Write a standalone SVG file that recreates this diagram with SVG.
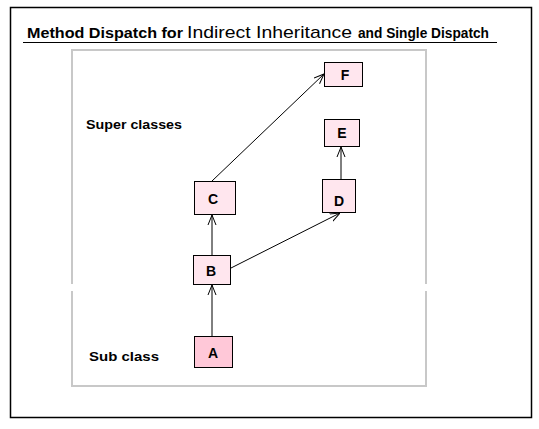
<svg xmlns="http://www.w3.org/2000/svg" width="539" height="429" viewBox="0 0 539 429">
<defs>
<style>
.node rect{stroke:#000;stroke-width:1;fill:#ffe6ee}
.node text{font-family:"Liberation Sans",Arial,sans-serif;font-weight:bold;font-size:14px;text-anchor:middle}
.lbl{font-family:"Liberation Sans",Arial,sans-serif;font-weight:bold;font-size:13.5px}
.edge{stroke:#000;stroke-width:1;fill:none;marker-end:url(#ah)}
.frame{fill:none;stroke:#c8c8c8;stroke-width:2}
</style>
<marker id="ah" viewBox="0 0 10 10" refX="10" refY="5" markerWidth="10" markerHeight="10" markerUnits="userSpaceOnUse" orient="auto">
<polyline points="0,1 10,5 0,9" fill="none" stroke="#000" stroke-width="1"/>
</marker>
</defs>
<rect x="0" y="0" width="539" height="429" fill="#fff"/>
<rect x="10.5" y="7.5" width="521" height="410" fill="none" stroke="#000" stroke-width="1.5"/>
<g id="title">
<text y="38" font-family="'Liberation Sans',Arial,sans-serif"><tspan x="27" font-weight="bold" font-size="14.5" textLength="156" lengthAdjust="spacingAndGlyphs">Method Dispatch for</tspan><tspan x="187" font-size="17" textLength="165" lengthAdjust="spacingAndGlyphs">Indirect Inheritance</tspan><tspan x="358" font-weight="bold" font-size="14.5" textLength="131" lengthAdjust="spacingAndGlyphs">and Single Dispatch</tspan></text>
<line x1="23" y1="42.5" x2="497" y2="42.5" stroke="#000" stroke-width="1.2"/>
</g>
<g id="frame">
<path class="frame" d="M72,284 V50 H426 V284 M426,291 V386 H72 V291"/>
</g>
<text class="lbl" x="86" y="129" textLength="96" lengthAdjust="spacingAndGlyphs">Super classes</text>
<text class="lbl" x="89" y="361" textLength="70" lengthAdjust="spacingAndGlyphs">Sub class</text>
<g id="connectors">
<line class="edge" x1="212" y1="336" x2="212" y2="285"/>
<line class="edge" x1="212" y1="255" x2="212" y2="215"/>
<line class="edge" x1="231" y1="268" x2="340" y2="213"/>
<line class="edge" x1="212" y1="181" x2="324" y2="74"/>
<line class="edge" x1="341" y1="179" x2="341" y2="147"/>
</g>
<g id="node-A" class="node"><rect x="194.5" y="336.5" width="38" height="31" style="fill:#ffc8d8"/><text x="213" y="358">A</text></g>
<g id="node-B" class="node"><rect x="193.5" y="255.5" width="37" height="29"/><text x="211" y="276">B</text></g>
<g id="node-C" class="node"><rect x="194.5" y="181.5" width="41" height="33"/><text x="213" y="204">C</text></g>
<g id="node-D" class="node"><rect x="322.5" y="179.5" width="33" height="33"/><text x="339" y="206">D</text></g>
<g id="node-E" class="node"><rect x="324.5" y="119.5" width="35" height="27"/><text x="342" y="138">E</text></g>
<g id="node-F" class="node"><rect x="324.5" y="62.5" width="38" height="24"/><text x="345" y="80">F</text></g>
</svg>
